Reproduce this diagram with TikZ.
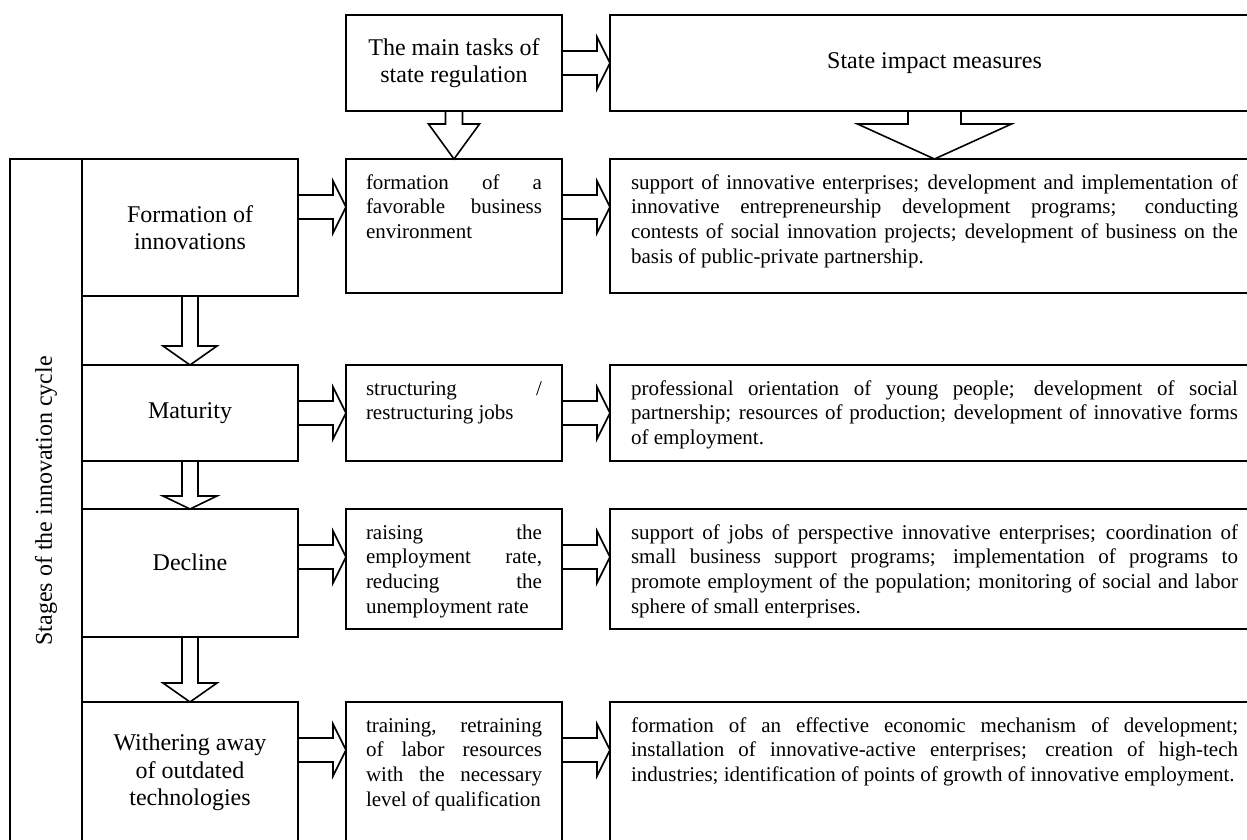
\documentclass[tikz,border=0pt]{standalone}
\usepackage{fontspec}
\setmainfont{Liberation Serif}
\usepackage{tikz}
\usetikzlibrary{calc}
\tolerance=10000
\hbadness=10000
% outlined block arrow to the right, #1 source node, #2 target node
\newcommand{\blockright}[2]{%
  \draw[blockarr] ($(#1.east |- #2.north west)+(0,36)$) -- ($(#2.north west)+(-13,36)$) -- ++(0,-14)
    -- ($(#2.north west)+(0,48)$) -- ($(#2.north west)+(-13,74)$) -- ++(0,-14)
    -- ($(#1.east |- #2.north west)+(0,60)$);}
% outlined block arrow downwards: source, target, shaft half, head half, head length
\newcommand{\blockdown}[5]{%
  \draw[blockarr] ($(#1.south)+(-#3,0)$) -- ($(#2.north)+(-#3,-#5)$) -- ++(#3-#4,0)
    -- (#2.north) -- ($(#2.north)+(#4,-#5)$) -- ++(#3-#4,0)
    -- ($(#1.south)+(#3,0)$);}

\begin{document}
\begin{tikzpicture}[x=0.5pt, y=-0.5pt, line width=0.8pt,
  stagebox/.style={draw, anchor=north west, outer sep=0pt, minimum width=108pt, align=center,
                   font=\fontsize{12}{13.8}\selectfont},
  headbox/.style={stagebox, minimum height=48pt},
  taskbox/.style={draw, anchor=north west, outer sep=0pt, inner xsep=10pt, inner ysep=0pt,
                  text width=88pt, text height=15pt, align=justify,
                  font=\fontsize{10.5}{12.4}\selectfont},
  measurebox/.style={taskbox, inner xsep=10.5pt, text width=303.5pt},
  blockarr/.style={line width=0.8pt, line join=miter}]
\useasboundingbox (0,0) rectangle (1247,840);

% header row
\node[headbox] (tasks) at (346,15) {The main tasks of\\ state regulation};
\node[headbox, minimum width=324.5pt] (impact) at (610,15) {State impact measures};

% stages of the cycle
\node[draw, outer sep=0pt, rotate=90, minimum width=342pt, minimum height=36pt,
      font=\fontsize{12}{13.8}\selectfont] (stages) at (46,501) {Stages of the innovation cycle};
\node[stagebox, minimum height=68.5pt] (form) at (82,159) {Formation of\\ innovations};
\node[stagebox, minimum height=48pt] (mat) at (82,365) {Maturity};
\node[stagebox, minimum height=64pt] (decl) at (82,509) {\raisebox{5.5pt}[\height][\depth]{Decline}};
\node[stagebox, minimum height=70.5pt] (wither) at (82,702) {Withering away\\ of outdated\\ technologies};

% tasks of state regulation
\node[taskbox, text depth=52pt] (env) at (346,159)
  {formation of a\linebreak favorable business\linebreak environment};
\node[taskbox, text depth=33pt] (jobs) at (346,365)
  {structuring /\linebreak restructuring jobs};
\node[taskbox, text depth=45pt] (rate) at (346,509)
  {raising the\linebreak employment rate,\linebreak reducing the\linebreak unemployment~rate};
\node[taskbox, text depth=55.5pt] (train) at (346,702)
  {training, retraining\linebreak of labor resources\linebreak with the necessary\linebreak level of qualification};

% state impact measures
\node[measurebox, text depth=52pt] (supp) at (610,159)
  {support of innovative enterprises; development and implementation of\linebreak
   innovative entrepreneurship development programs; conducting\linebreak
   contests of social innovation projects; development of business on the\linebreak
   basis of public-private partnership.};
\node[measurebox, text depth=33pt] (orient) at (610,365)
  {professional orientation of young people; development of social\linebreak
   partnership; resources of production; development of innovative forms\linebreak
   of employment.};
\node[measurebox, text depth=45pt] (coord) at (610,509)
  {support of jobs of perspective innovative enterprises; coordination of\linebreak
   small business support programs; implementation of programs to\linebreak
   promote employment of the population; monitoring of social and labor\linebreak
   sphere of small enterprises.};
\node[measurebox, text depth=55.5pt] (mech) at (610,702)
  {formation of an effective economic mechanism of development;\linebreak
   installation of innovative-active enterprises; creation of high-tech\linebreak
   industries; identification of points of growth of innovative employment.};

% block arrows
\blockright{tasks}{impact}
\blockdown{tasks}{env}{8.5}{25.5}{35}
\blockdown{impact}{supp}{26.5}{77}{35}
\blockright{form}{env}
\blockright{env}{supp}
\blockright{mat}{jobs}
\blockright{jobs}{orient}
\blockright{decl}{rate}
\blockright{rate}{coord}
\blockright{wither}{train}
\blockright{train}{mech}
\blockdown{form}{mat}{8}{27}{19}
\blockdown{mat}{decl}{8}{27}{13}
\blockdown{decl}{wither}{8}{27}{19}
\end{tikzpicture}
\end{document}
